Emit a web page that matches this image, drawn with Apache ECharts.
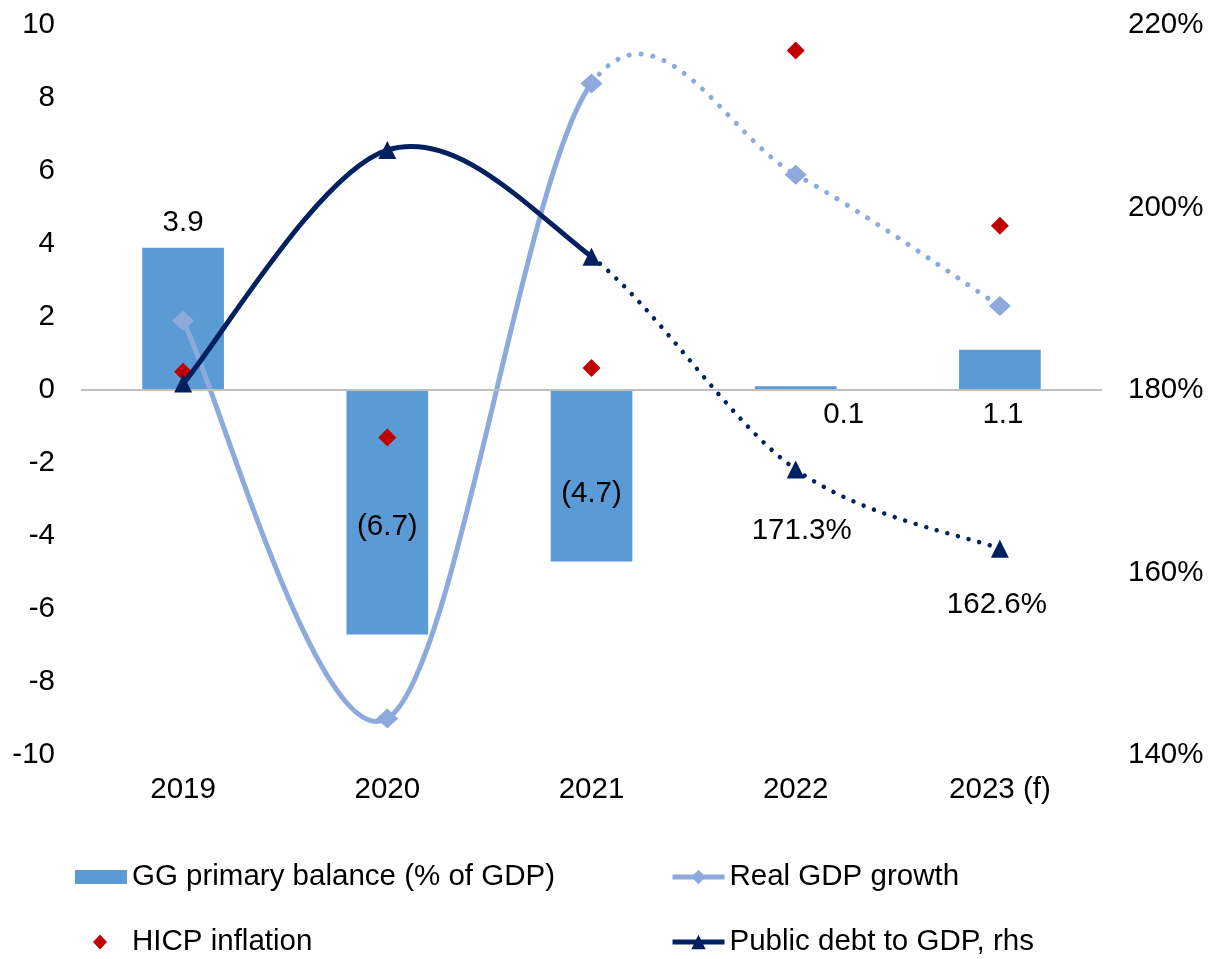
<!DOCTYPE html>
<html>
<head>
<meta charset="utf-8">
<script src="https://cdn.jsdelivr.net/npm/echarts@6/dist/echarts.min.js"></script>
<style>
  html, body { margin: 0; padding: 0; background: #fff; }
  #chart { width: 1219px; height: 959px; }
</style>
</head>
<body>
<div id="chart"></div>
<script>
var years = ['2019', '2020', '2021', '2022', '2023 (f)'];
var primaryBalance = [3.9, -6.7, -4.7, 0.1, 1.1];
var gdpGrowth = [1.9, -9.0, 8.4, 5.9, 2.3];
var hicp = [0.5, -1.3, 0.6, 9.3, 4.5];
var debt = [180.7, 206.3, 194.6, 171.3, 162.6];
var leftTicks = { min: -10, max: 10, step: 2 };
var rightTicks = { min: 140, max: 220, step: 20 };
var firstForecast = 2; // lines turn dotted after 2021

var FONT = '"Liberation Sans", Arial, sans-serif';
var FS = 29.5;
var BAR = '#5B9BD5', GDP = '#8EA9DB', RED = '#C00000', NAVY = '#002060';

var myChart = echarts.init(document.getElementById('chart'));

// bar labels: negatives shown in brackets, small ones below the zero line
var barData = primaryBalance.map(function (v, i) {
    var lab = { show: true };
    if (i === 0) { lab.position = 'top'; lab.distance = 10; }
    else if (v < 0) { lab.position = 'inside'; lab.offset = [0, i === 2 ? 18 : 15]; }
    else { lab.position = 'bottom'; lab.distance = 10; lab.offset = [i === 3 ? 48 : 3, 0]; }
    return { value: v, label: lab };
});

// debt labels only on the forecast points
var debtLabelled = debt.map(function (v, i) {
    if (i === 3) return { value: v, label: { show: true, position: 'bottom', distance: 37, offset: [6, 0] } };
    if (i === 4) return { value: v, label: { show: true, position: 'bottom', distance: 32, offset: [-3, 0] } };
    return v;
});

function legendAt(name, left, top, item, extra) {
    return Object.assign({
        left: left, top: top, padding: 0, itemWidth: 52, itemHeight: 14,
        selectedMode: false,
        textStyle: { fontFamily: FONT, fontSize: FS, color: '#000' },
        data: [Object.assign({ name: name }, item)]
    }, extra || {});
}

// excel style smoothed line: one bezier per segment, control points at 1/6 of neighbour span
function curveSeries(id, values, color, yAxisIndex, width, dash, z) {
    return {
        id: id,
        type: 'custom',
        yAxisIndex: yAxisIndex,
        silent: true,
        z: z,
        encode: { x: 0, y: 1 },
        data: values.map(function (v, i) { return [i, v]; }),
        renderItem: function (params, api) {
            var i = params.dataIndexInside, n = params.dataInsideLength;
            if (i >= n - 1) return null;
            function pt(k) {
                k = Math.max(0, Math.min(n - 1, k));
                return api.coord([api.value(0, k), api.value(1, k)]);
            }
            var p0 = pt(i - 1), p1 = pt(i), p2 = pt(i + 1), p3 = pt(i + 2);
            var dotted = i >= firstForecast;
            return {
                type: 'bezierCurve',
                shape: {
                    x1: p1[0], y1: p1[1], x2: p2[0], y2: p2[1],
                    cpx1: p1[0] + (p2[0] - p0[0]) / 6, cpy1: p1[1] + (p2[1] - p0[1]) / 6,
                    cpx2: p2[0] - (p3[0] - p1[0]) / 6, cpy2: p2[1] - (p3[1] - p1[1]) / 6
                },
                style: {
                    fill: 'none', stroke: color, lineWidth: dotted ? dash.width : width,
                    lineDash: dotted ? dash.pattern : null, lineCap: dotted ? 'round' : 'butt'
                }
            };
        }
    };
}

var option = {
    animation: false,
    textStyle: { fontFamily: FONT },
    grid: { left: 81, right: 117, top: 25, bottom: 204 },
    legend: [
        legendAt('GG primary balance (% of GDP)', 75, 862, { icon: 'rect', itemStyle: { color: BAR } }),
        legendAt('HICP inflation', 93, 927, { icon: 'diamond', itemStyle: { color: RED, opacity: 1 } },
            { itemWidth: 14, itemHeight: 15, textStyle: { fontFamily: FONT, fontSize: FS, color: '#000', padding: [0, 0, 0, 20] } }),
        legendAt('Real GDP growth', 670, 862, { itemStyle: { color: GDP }, lineStyle: { color: GDP, width: 5, type: 'solid', opacity: 1 } },
            { itemHeight: 18 }),
        legendAt('Public debt to GDP, rhs', 670, 927, { itemStyle: { color: NAVY }, lineStyle: { color: NAVY, width: 5, type: 'solid', opacity: 1 } },
            { itemHeight: 18 })
    ],
    xAxis: {
        type: 'category',
        data: years,
        axisLine: { show: false },
        axisTick: { show: false },
        axisLabel: { fontSize: FS, color: '#000', margin: 20, fontFamily: FONT }
    },
    yAxis: [
        {
            type: 'value', min: leftTicks.min, max: leftTicks.max, interval: leftTicks.step,
            axisLine: { show: false }, axisTick: { show: false }, splitLine: { show: false },
            axisLabel: { fontSize: FS, color: '#000', margin: 26, fontFamily: FONT }
        },
        {
            type: 'value', position: 'right', min: rightTicks.min, max: rightTicks.max, interval: rightTicks.step,
            axisLine: { show: false }, axisTick: { show: false }, splitLine: { show: false },
            axisLabel: { fontSize: FS, color: '#000', margin: 26, fontFamily: FONT, formatter: '{value}%' }
        }
    ],
    series: [
        {
            name: 'GG primary balance (% of GDP)',
            type: 'bar',
            barWidth: '40%',
            itemStyle: { color: BAR },
            label: {
                fontSize: FS, color: '#000', fontFamily: FONT,
                formatter: function (p) { return p.value < 0 ? '(' + Math.abs(p.value).toFixed(1) + ')' : p.value.toFixed(1); }
            },
            data: barData,
            markLine: {
                silent: true, symbol: 'none', label: { show: false },
                lineStyle: { color: '#BFBFBF', width: 2, type: 'solid' },
                data: [{ yAxis: 0 }]
            },
            z: 1
        },
        curveSeries('gdpCurve', gdpGrowth, GDP, 0, 5, { width: 5, pattern: [0.01, 12] }, 2),
        {
            name: 'Real GDP growth',
            type: 'line',
            symbol: 'diamond',
            symbolSize: [22, 20],
            itemStyle: { color: GDP },
            lineStyle: { opacity: 0 },
            data: gdpGrowth,
            z: 3
        },
        {
            name: 'HICP inflation',
            type: 'scatter',
            symbol: 'diamond',
            symbolSize: 18,
            itemStyle: { color: RED, opacity: 1 },
            data: hicp,
            z: 4
        },
        curveSeries('debtCurve', debt, NAVY, 1, 5, { width: 4.5, pattern: [0.01, 11] }, 5),
        {
            name: 'Public debt to GDP, rhs',
            type: 'line',
            yAxisIndex: 1,
            symbol: 'triangle',
            symbolSize: 18,
            itemStyle: { color: NAVY },
            lineStyle: { opacity: 0 },
            label: {
                fontSize: FS, color: '#000', fontFamily: FONT,
                formatter: function (p) { return p.value.toFixed(1) + '%'; }
            },
            data: debtLabelled,
            z: 6
        }
    ]
};
myChart.setOption(option);
</script>
</body>
</html>
